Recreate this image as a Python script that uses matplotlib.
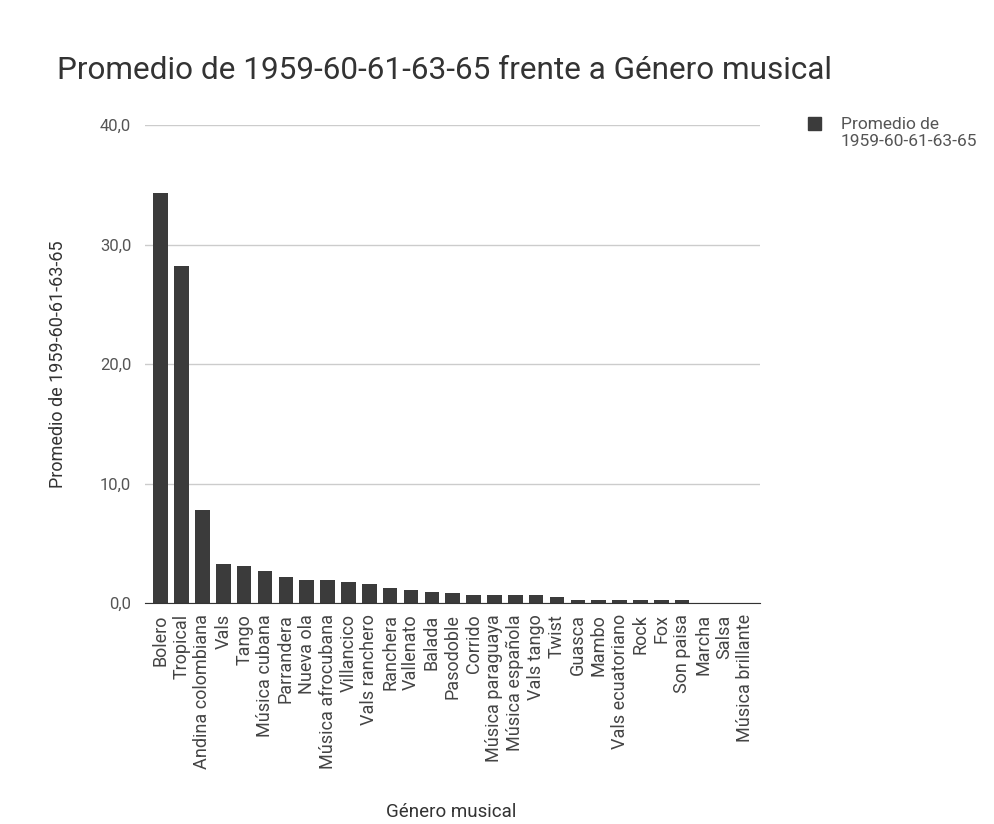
import matplotlib.pyplot as plt
from matplotlib.patches import Rectangle
import numpy as np

plt.rcParams['font.family'] = ['Roboto', 'DejaVu Sans']

generos = ["Bolero", "Tropical", "Andina colombiana", "Vals", "Tango", "Música cubana",
           "Parrandera", "Nueva ola", "Música afrocubana", "Villancico", "Vals ranchero",
           "Ranchera", "Vallenato", "Balada", "Pasodoble", "Corrido", "Música paraguaya",
           "Música española", "Vals tango", "Twist", "Guasca", "Mambo", "Vals ecuatoriano",
           "Rock", "Fox", "Son paisa", "Marcha", "Salsa", "Música brillante"]
promedio = [34.3, 28.2, 7.8, 3.25, 3.15, 2.7, 2.15, 1.9, 1.9, 1.75, 1.6, 1.25, 1.1,
            0.95, 0.85, 0.7, 0.7, 0.7, 0.65, 0.5, 0.25, 0.25, 0.25, 0.25, 0.25, 0.25,
            0.0, 0.0, 0.0]
yticks = [0, 10, 20, 30, 40]
ytick_labels = ["0,0", "10,0", "20,0", "30,0", "40,0"]
serie = "Promedio de\n1959-60-61-63-65"
color_barra = "#3b3b3b"

fig = plt.figure(figsize=(9.94, 8.24), dpi=100)
ax = fig.add_axes([0.146, 0.268, 0.619, 0.58])

x = np.arange(len(generos))
ax.bar(x, promedio, width=0.7, color=color_barra, zorder=3)

ax.set_xlim(-0.75, len(generos) - 0.25)
ax.set_ylim(0, 40)
ax.set_yticks(yticks)
ax.set_yticklabels(ytick_labels, color="#555555", fontsize=12)
ax.set_xticks(x)
ax.set_xticklabels(generos, rotation=90, color="#444444", fontsize=13)
ax.tick_params(axis="y", length=0, pad=10)
ax.tick_params(axis="x", length=0, pad=8)
ax.grid(axis="y", color="#cccccc", linewidth=1, zorder=0)
for s in ["top", "right", "left"]:
    ax.spines[s].set_visible(False)
ax.spines["bottom"].set_color("#333333")
ax.spines["bottom"].set_zorder(4)

ax.set_ylabel("Promedio de 1959-60-61-63-65", fontsize=13, color="#333333")
ax.yaxis.set_label_coords(-0.127, 0.5)

fig.text(0.454, 0.0146, "Género musical", fontsize=13.5, color="#333333",
         ha="center", va="center")

fig.text(0.057, 0.915, "Promedio de 1959-60-61-63-65 frente a Género musical",
         fontsize=22.7, color="#333333", va="center")

# leyenda
fig.add_artist(Rectangle((808 / 994, 1 - 130 / 824), 13 / 994, 13 / 824,
                         transform=fig.transFigure, color=color_barra))
fig.text(841 / 994, 1 - 117 / 824, serie, fontsize=12.5, color="#555555",
         va="top", linespacing=1.15)

fig.savefig("out.png", dpi=100)
